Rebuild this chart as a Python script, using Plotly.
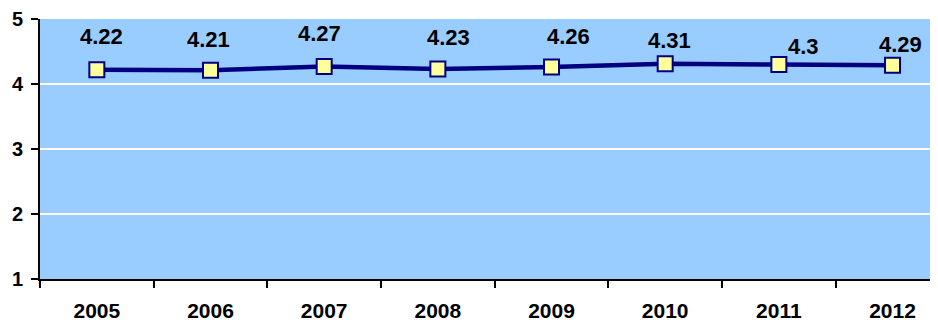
import plotly.graph_objects as go

years = ["2005", "2006", "2007", "2008", "2009", "2010", "2011", "2012"]
values = [4.22, 4.21, 4.27, 4.23, 4.26, 4.31, 4.3, 4.29]
labels = ["4.22", "4.21", "4.27", "4.23", "4.26", "4.31", "4.3", "4.29"]
y_ticks = [1, 2, 3, 4, 5]

# label placement offsets in pixels (layout, not data)
label_dx = [5, -2, -5, 11, 17, 4, 25, 8]
label_dy = [33, 31, 33, 32, 31, 23, 18, 21]

FONT = "Arial, Liberation Sans, sans-serif"

fig = go.Figure()
fig.add_trace(go.Scatter(
    x=years, y=values, mode="lines+markers",
    line=dict(color="#000080", width=4.5),
    marker=dict(symbol="square", size=15, color="#FFFF99",
                line=dict(color="#000080", width=2)),
    hoverinfo="skip", showlegend=False,
))

for i, (v, t) in enumerate(zip(values, labels)):
    fig.add_annotation(x=i, y=v, xref="x", yref="y", text="<b>" + t + "</b>",
                       showarrow=False, xshift=label_dx[i], yshift=label_dy[i],
                       font=dict(family=FONT, size=22, color="#000000"))

fig.update_layout(
    width=930, height=316,
    margin=dict(l=32, r=0, t=11, b=45),
    paper_bgcolor="white", plot_bgcolor="#99CCFF",
    xaxis=dict(
        type="category", range=[-0.5, 7.4], automargin=False,
        tickvals=years, ticktext=["<b>" + y + "</b>" for y in years],
        showline=True, linecolor="black", linewidth=2,
        ticks="outside", ticklen=7, tickwidth=2, tickcolor="black",
        tickson="boundaries", showgrid=False,
        ticklabelstandoff=12, ticklabeloverflow="allow",
        tickfont=dict(family=FONT, size=21, color="black"),
    ),
    yaxis=dict(
        range=[1, 5], tickvals=y_ticks, automargin=False,
        ticktext=["<b>" + str(v) + "</b>" for v in y_ticks],
        showline=True, linecolor="black", linewidth=2,
        ticks="outside", ticklen=7, tickwidth=2, tickcolor="black",
        showgrid=True, gridcolor="white", gridwidth=1.5,
        zeroline=False, ticklabelstandoff=4, ticklabeloverflow="allow",
        tickfont=dict(family=FONT, size=20, color="black"),
    ),
)

fig.write_html("out.html")
